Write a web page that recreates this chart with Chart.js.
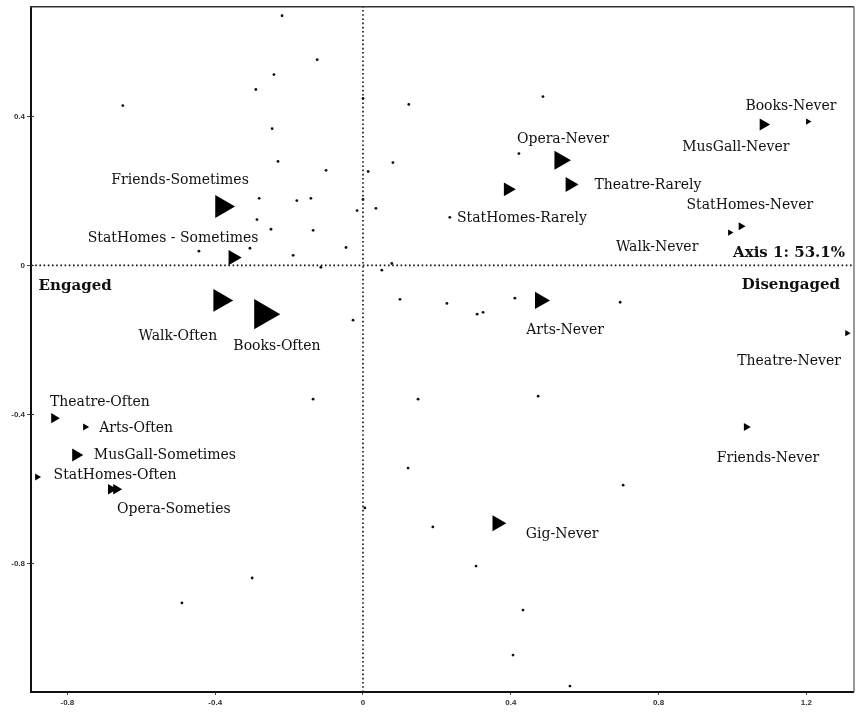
<!DOCTYPE html>
<html><head><meta charset="utf-8">
<script src="https://cdn.jsdelivr.net/npm/chart.js@4.4.0/dist/chart.umd.min.js"></script>
<style>html,body{margin:0;padding:0;background:#fff}</style>
</head><body>
<canvas id="c" width="856" height="715"></canvas>
<script>
// ---------- DATA ----------
const xTickValues = [-0.8, -0.4, 0, 0.4, 0.8, 1.2];
const yTickValues = [0.4, 0, -0.4, -0.8];

// category points (triangles): coordinates on axis 1 / axis 2 and mass
const categoryNames = ["Friends-Sometimes","StatHomes-Sometimes","Walk-Often","Books-Often","Theatre-Often","Arts-Often","MusGall-Sometimes","StatHomes-Often","Opera-Someties","Opera-Someties b","Opera-Never","Theatre-Rarely","StatHomes-Rarely","MusGall-Never","Books-Never","StatHomes-Never","Walk-Never","Arts-Never","Theatre-Never","Friends-Never","Gig-Never"];
const categoryX = [-0.382,-0.352,-0.387,-0.271,-0.836,-0.752,-0.777,-0.882,-0.682,-0.668,0.533,0.560,0.392,1.083,1.204,1.023,0.993,0.479,1.310,1.037,0.363];
const categoryY = [0.158,0.021,-0.094,-0.131,-0.410,-0.434,-0.509,-0.568,-0.601,-0.601,0.282,0.217,0.204,0.378,0.386,0.105,0.088,-0.094,-0.182,-0.434,-0.692];
const categoryMass = [0.66,0.44,0.66,0.87,0.29,0.20,0.37,0.20,0.30,0.30,0.55,0.43,0.40,0.35,0.18,0.23,0.18,0.50,0.18,0.23,0.46];

// individual respondents (dots)
const dotX = [-0.219,-0.241,-0.290,-0.650,-0.246,-0.230,-0.281,-0.179,-0.141,-0.287,-0.249,-0.135,-0.306,-0.189,-0.046,-0.444,-0.124,0.000,0.124,0.487,0.081,0.014,-0.100,0.000,-0.016,0.035,0.422,0.235,-0.114,0.078,0.051,0.100,0.227,0.309,0.325,0.411,-0.027,0.696,-0.135,0.149,0.474,0.122,0.704,0.005,0.189,0.306,0.433,0.406,0.560,-0.300,-0.490];
const dotY = [0.670,0.512,0.472,0.429,0.367,0.279,0.180,0.174,0.180,0.123,0.097,0.094,0.046,0.027,0.048,0.038,0.552,0.448,0.432,0.453,0.276,0.252,0.255,0.177,0.147,0.153,0.300,0.129,-0.005,0.005,-0.013,-0.091,-0.102,-0.131,-0.126,-0.088,-0.147,-0.099,-0.359,-0.359,-0.351,-0.544,-0.590,-0.651,-0.702,-0.807,-0.925,-1.046,-1.129,-0.839,-0.906];

// text labels placed at axis coordinates
const labelTexts = ["Friends-Sometimes","StatHomes - Sometimes","Walk-Often","Books-Often","Theatre-Often","Arts-Often","MusGall-Sometimes","StatHomes-Often","Opera-Someties","Opera-Never","Theatre-Rarely","StatHomes-Rarely","Books-Never","MusGall-Never","StatHomes-Never","Walk-Never","Arts-Never","Theatre-Never","Friends-Never","Gig-Never"];
const labelX = [-0.495,-0.514,-0.501,-0.233,-0.712,-0.614,-0.536,-0.671,-0.512,0.541,0.771,0.430,1.158,1.009,1.047,0.796,0.547,1.153,1.096,0.539];
const labelY = [0.233,0.078,-0.185,-0.212,-0.362,-0.432,-0.504,-0.558,-0.649,0.343,0.220,0.131,0.432,0.322,0.166,0.054,-0.169,-0.252,-0.512,-0.718];

const poleTexts = ["Engaged","Disengaged","Axis 1: 53.1%"];
const poleX = [-0.779,1.158,1.153];
const poleY = [-0.051,-0.048,0.038];

// axis extents
const X_MIN = -0.8985, X_MAX = 1.3261;
const Y_MIN = -1.145, Y_MAX = 0.694;

// ---------- STYLE ----------
const MASS_TO_RADIUS = 20;
const LABEL_FONT = '14px "DejaVu Serif"';
const POLE_FONT = 'bold 15px "DejaVu Serif"';

const labelPlugin = {
  id: 'labels',
  afterDatasetsDraw(chart) {
    const ctx = chart.ctx, sx = chart.scales.x, sy = chart.scales.y;
    ctx.save();
    ctx.fillStyle = '#111';
    ctx.textAlign = 'center';
    ctx.textBaseline = 'alphabetic';
    ctx.font = LABEL_FONT;
    labelTexts.forEach((t, i) => {
      ctx.fillText(t, sx.getPixelForValue(labelX[i]), sy.getPixelForValue(labelY[i]) + 5.5);
    });
    ctx.font = POLE_FONT;
    poleTexts.forEach((t, i) => {
      ctx.fillText(t, sx.getPixelForValue(poleX[i]), sy.getPixelForValue(poleY[i]) + 6);
    });
    ctx.restore();
  }
};

const framePlugin = {
  id: 'frame',
  afterDraw(chart) {
    const a = chart.chartArea, ctx = chart.ctx;
    ctx.save();
    ctx.strokeStyle = '#333';
    ctx.lineWidth = 1.5;
    ctx.beginPath();
    ctx.moveTo(a.left - 1, a.top);
    ctx.lineTo(a.right + 1, a.top);
    ctx.stroke();
    ctx.strokeStyle = '#555';
    ctx.lineWidth = 1.2;
    ctx.beginPath();
    ctx.moveTo(a.right + 1, a.top);
    ctx.lineTo(a.right + 1, a.bottom);
    ctx.stroke();
    // small inner tick marks (crosses)
    ctx.strokeStyle = '#333';
    ctx.lineWidth = 1;
    const sy = chart.scales.y;
    yTickValues.forEach(v => {
      const y = Math.round(sy.getPixelForValue(v)) + 0.5;
      ctx.beginPath(); ctx.moveTo(a.left, y); ctx.lineTo(a.left + 3, y); ctx.stroke();
    });
    ctx.restore();
  }
};

const pts = (xs, ys) => xs.map((x, i) => ({ x, y: ys[i] }));

new Chart(document.getElementById('c'), {
  type: 'scatter',
  data: {
    datasets: [
      {
        label: 'categories',
        data: pts(categoryX, categoryY),
        pointStyle: 'triangle',
        rotation: 90,
        pointRadius: c => categoryMass[c.dataIndex] * MASS_TO_RADIUS,
        backgroundColor: '#000',
        borderColor: '#000',
        borderWidth: 0
      },
      {
        label: 'respondents',
        data: pts(dotX, dotY),
        pointStyle: 'circle',
        pointRadius: 1.4,
        backgroundColor: '#111',
        borderWidth: 0
      },
      {
        label: 'axis2',
        data: [{ x: 0, y: Y_MIN }, { x: 0, y: Y_MAX }],
        showLine: true, pointRadius: 0,
        borderColor: '#111', borderWidth: 1.6, borderDash: [1.6, 2.6]
      },
      {
        label: 'axis1',
        data: [{ x: X_MIN, y: 0 }, { x: X_MAX, y: 0 }],
        showLine: true, pointRadius: 0,
        borderColor: '#111', borderWidth: 1.6, borderDash: [1.6, 2.6]
      }
    ]
  },
  options: {
    responsive: false,
    animation: false,
    events: [],
    devicePixelRatio: 1,
    layout: { autoPadding: false, padding: { top: 6, right: 3, left: 0, bottom: 0 } },
    plugins: { legend: { display: false }, tooltip: { enabled: false } },
    scales: {
      x: {
        type: 'linear', min: X_MIN, max: X_MAX,
        afterBuildTicks: s => { s.ticks = xTickValues.map(v => ({ value: v })); },
        afterFit: s => { s.height = 23; },
        grid: { drawOnChartArea: false, drawTicks: true, tickLength: 3, color: '#444' },
        border: { display: true, color: '#111', width: 2 },
        ticks: { font: { family: 'Liberation Sans', size: 8, weight: 'bold' }, color: '#333', padding: 3, maxRotation: 0, callback: v => String(v) }
      },
      y: {
        type: 'linear', min: Y_MIN, max: Y_MAX,
        afterBuildTicks: s => { s.ticks = yTickValues.map(v => ({ value: v })); },
        afterFit: s => { s.width = 31; },
        grid: { drawOnChartArea: false, drawTicks: true, tickLength: 4, color: '#444' },
        border: { display: true, color: '#111', width: 2 },
        ticks: { font: { family: 'Liberation Sans', size: 8, weight: 'bold' }, color: '#333', padding: 2, callback: v => String(v) }
      }
    }
  },
  plugins: [labelPlugin, framePlugin]
});
</script>
</body></html>
